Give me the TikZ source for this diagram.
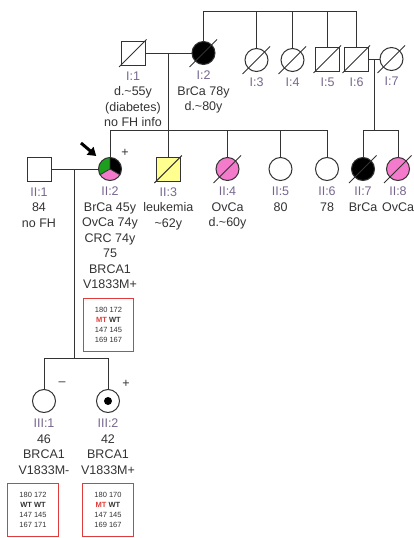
\documentclass[tikz,border=0pt]{standalone}
\usepackage{fontspec}
\setmainfont{Liberation Sans}
\usetikzlibrary{positioning, calc, arrows.meta}
\definecolor{ink}{HTML}{333333}
\definecolor{idc}{HTML}{76668F}
\definecolor{ovca}{HTML}{F47ACB}
\definecolor{leuk}{HTML}{FFFF8F}
\definecolor{crc}{HTML}{1E9E1E}
\definecolor{geno}{HTML}{E03C3C}
\newcommand{\indid}[1]{{\color{idc}#1}}
\newcommand{\gmt}{{\bfseries\color{geno}MT}}
\newcommand{\gwt}{{\bfseries WT}}

\begin{document}
\begin{tikzpicture}[x=1pt, y=1pt, font=\fontsize{12.5}{15.5}\selectfont,
  rel/.style={draw=ink, line width=1pt},
  male/.style={rectangle, draw=ink, line width=1pt, minimum size=24pt, inner sep=0pt},
  female/.style={circle, draw=ink, line width=1pt, minimum size=23pt, inner sep=0pt},
  lbl/.style={align=center, inner sep=0pt, text=ink},
  sign/.style={inner sep=0pt, text=ink},
  genobox/.style={minimum width=50pt, minimum height=52pt,
    align=center, inner sep=0pt, text=ink, font=\fontsize{7.5}{10}\selectfont},
  boxline/.style={draw=geno, line width=1pt},
  carrier/.style={path picture={\fill[black] (path picture bounding box.center) circle[radius=4pt];}},
  threecancer/.style={path picture={
    \fill[crc] (path picture bounding box.center) -- ++(90:12) arc[start angle=90, end angle=210, radius=12] -- cycle;
    \fill[ovca] (path picture bounding box.center) -- ++(210:12) arc[start angle=210, end angle=330, radius=12] -- cycle;
    \fill[black] (path picture bounding box.center) -- ++(330:12) arc[start angle=330, end angle=450, radius=12] -- cycle;}},
  parrow/.style={line width=3pt, black, -{Triangle[length=8pt, width=10pt]}, shorten >=7pt}]
  \useasboundingbox (0,0) rectangle (413,-538);

  % generation I
  \node[male] (i1) at (133,-53) {};
  \node[female, fill=black] (i2) at (203.5,-53) {};
  \node[female] (i3) at (256.5,-60) {};
  \node[female] (i4) at (292.5,-60) {};
  \node[male] (i5) at (327.5,-59) {};
  \node[male] (i6) at (356.5,-59) {};
  \node[female] (i7) at (391.5,-59) {};

  % generation II
  \node[male] (ii1) at (39,-169) {};
  \node[female, threecancer] (ii2) at (110,-169) {};
  \node[male, fill=leuk] (ii3) at (168.3,-169) {};
  \node[female, fill=ovca] (ii4) at (227.5,-169) {};
  \node[female] (ii5) at (280.5,-169) {};
  \node[female] (ii6) at (327,-169) {};
  \node[female, fill=black] (ii7) at (363,-169) {};
  \node[female, fill=ovca] (ii8) at (398,-169) {};
  \draw[ink, line width=0.8pt] (ii2.center) -- (ii2.90) (ii2.center) -- (ii2.210) (ii2.center) -- (ii2.330);

  % generation III
  \node[female] (iii1) at (44,-401) {};
  \node[female, carrier] (iii2) at (108,-401) {};

  % lines of descent
  \coordinate (gp) at (203.5,-11);
  \coordinate (s2) at (0,-130);
  \coordinate (s3) at (0,-358);
  \draw[rel] (i2.north) |- (i6.north |- gp) -- (i6.north);
  \foreach \k in {i3,i4,i5}
    \draw[rel] (\k.north) -- (\k.north |- gp);
  \draw[rel] (i1) -- (i2);
  \coordinate (m1) at ($(i1)!0.5!(i2)$);
  \draw[rel] (m1) -- (m1 |- s2);
  \draw[rel] (ii2.north) |- (ii6.north |- s2) -- (ii6.north);
  \foreach \k in {ii3,ii4,ii5}
    \draw[rel] (\k.north) -- (\k.north |- s2);
  \draw[rel] (i6) -- (i7);
  \coordinate (m2) at ($(i6)!0.5!(i7)$);
  \draw[rel] (m2) -- (m2 |- s2);
  \draw[rel] (ii7.north) |- (ii8.north |- s2) -- (ii8.north);
  \draw[rel] (ii1) -- (ii2);
  \coordinate (m3) at ($(ii1)!0.5!(ii2)$);
  \draw[rel] (m3) -- (m3 |- s3);
  \draw[rel] (iii1.north) |- (iii2.north |- s3) -- (iii2.north);

  % deceased
  \foreach \k in {i1,i2,i3,i4,i5,i6,i7,ii3,ii4,ii7,ii8}
    \draw[rel] ([shift={(-14,-14)}]\k.center) -- ([shift={(13.5,13.5)}]\k.center);

  % proband and test results
  \coordinate (pa) at (81,-143);
  \draw[parrow] (pa) -- (ii2.135);
  \node[sign] (ii2s) at (125,-153) {+};
  \node[sign] (iii1s) at (62,-384) {\textendash};
  \node[sign] (iii2s) at (126,-384) {+};

  % labels
  \node[lbl, below=6pt of i1] (i1t) {\indid{I:1}\\d.\textasciitilde55y\\(diabetes)\\no FH info};
  \node[lbl, below=6pt of i2] (i2t) {\indid{I:2}\\BrCa 78y\\d.\textasciitilde80y};
  \node[lbl, below=6pt of i3] (i3t) {\indid{I:3}};
  \node[lbl, below=6pt of i4] (i4t) {\indid{I:4}};
  \node[lbl, below=6pt of i5] (i5t) {\indid{I:5}};
  \node[lbl, below=6pt of i6] (i6t) {\indid{I:6}};
  \node[lbl, below=6pt of i7] (i7t) {\indid{I:7}};
  \node[lbl, below=6pt of ii1] (ii1t) {\indid{II:1}\\84\\no FH};
  \node[lbl, below=6pt of ii2] (ii2t) {\indid{II:2}\\BrCa 45y\\OvCa 74y\\CRC 74y\\75\\BRCA1\\V1833M+};
  \node[lbl, below=6pt of ii3] (ii3t) {\indid{II:3}\\leukemia\\\textasciitilde62y};
  \node[lbl, below=6pt of ii4] (ii4t) {\indid{II:4}\\OvCa\\d.\textasciitilde60y};
  \node[lbl, below=6pt of ii5] (ii5t) {\indid{II:5}\\80};
  \node[lbl, below=6pt of ii6] (ii6t) {\indid{II:6}\\78};
  \node[lbl, below=6pt of ii7] (ii7t) {\indid{II:7}\\BrCa};
  \node[lbl, below=6pt of ii8] (ii8t) {\indid{II:8}\\OvCa};
  \node[lbl, below=6pt of iii1] (iii1t) {\indid{III:1}\\46\\BRCA1\\V1833M-};
  \node[lbl, below=6pt of iii2] (iii2t) {\indid{III:2}\\42\\BRCA1\\V1833M+};

  % haplotype boxes
  \node[genobox, below=9.5pt of ii2t, xshift=-1.5pt] (ii2g) {180 172\\\gmt{} \gwt\\147 145\\169 167};
  \node[genobox, below=9pt of iii1t, xshift=-11pt] (iii1g) {180 172\\\gwt{} \gwt\\147 145\\167 171};
  \node[genobox, below=9pt of iii2t] (iii2g) {180 170\\\gmt{} \gwt\\147 145\\169 167};
  \foreach \g in {ii2g,iii1g,iii2g}
    \draw[boxline] (\g.south west) rectangle (\g.north east);
\end{tikzpicture}
\end{document}
